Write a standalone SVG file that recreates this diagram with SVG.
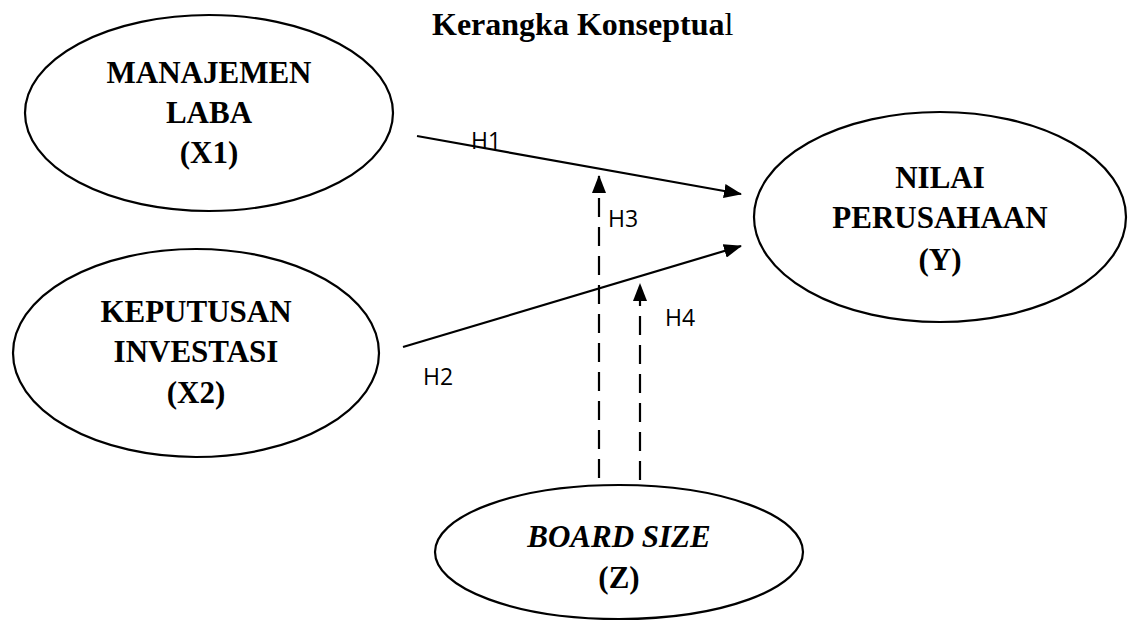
<svg xmlns="http://www.w3.org/2000/svg" width="1128" height="622" viewBox="0 0 1128 622">
<style>
.node{fill:#fff;stroke:#000;stroke-width:2.2}
.t{font-family:"Liberation Serif","Times New Roman",serif;font-weight:bold;font-size:31px;fill:#000;text-anchor:middle}
.lbl{font-family:"Open Sans","Liberation Sans",sans-serif;font-size:23px;fill:#000}
.ln{stroke:#000;stroke-width:2.2;fill:none}
.dash{stroke-dasharray:19 10}
</style>
<defs>
<marker id="ah" markerUnits="userSpaceOnUse" markerWidth="18" markerHeight="14" refX="17" refY="7" orient="auto">
<path d="M0,0 L18,7 L0,14 Z" fill="#000"/>
</marker>
</defs>
<rect width="1128" height="622" fill="#fff"/>
<text x="432" y="35" font-family="'Liberation Serif','Times New Roman',serif" font-size="32" font-weight="bold" fill="#000">Kerangka Konseptua<tspan font-weight="normal">l</tspan></text>
<g id="connectors">
<line class="ln" x1="417" y1="136" x2="741" y2="194" marker-end="url(#ah)"/>
<line class="ln" x1="403" y1="347" x2="741" y2="246" marker-end="url(#ah)"/>
<line class="ln dash" x1="599" y1="478" x2="599" y2="176" marker-end="url(#ah)"/>
<line class="ln dash" x1="640" y1="480" x2="640" y2="284" marker-end="url(#ah)"/>
<text class="lbl" x="471" y="149">H1</text>
<text class="lbl" x="423" y="385">H2</text>
<text class="lbl" x="608" y="227">H3</text>
<text class="lbl" x="665" y="326">H4</text>
</g>
<g id="manajemen-laba">
<ellipse class="node" cx="209" cy="113" rx="184" ry="98"/>
<text class="t" x="209" y="83">MANAJEMEN</text>
<text class="t" x="209" y="123">LABA</text>
<text class="t" x="209" y="163">(X1)</text>
</g>
<g id="keputusan-investasi">
<ellipse class="node" cx="196" cy="353" rx="183" ry="104"/>
<text class="t" x="196" y="322">KEPUTUSAN</text>
<text class="t" x="196" y="362">INVESTASI</text>
<text class="t" x="196" y="403">(X2)</text>
</g>
<g id="nilai-perusahaan">
<ellipse class="node" cx="940" cy="217" rx="186" ry="105"/>
<text class="t" x="940" y="188">NILAI</text>
<text class="t" x="940" y="228">PERUSAHAAN</text>
<text class="t" x="940" y="270">(Y)</text>
</g>
<g id="board-size">
<ellipse class="node" cx="619" cy="552" rx="184" ry="67"/>
<text class="t" x="619" y="547" font-style="italic">BOARD SIZE</text>
<text class="t" x="619" y="588">(Z)</text>
</g>
</svg>
